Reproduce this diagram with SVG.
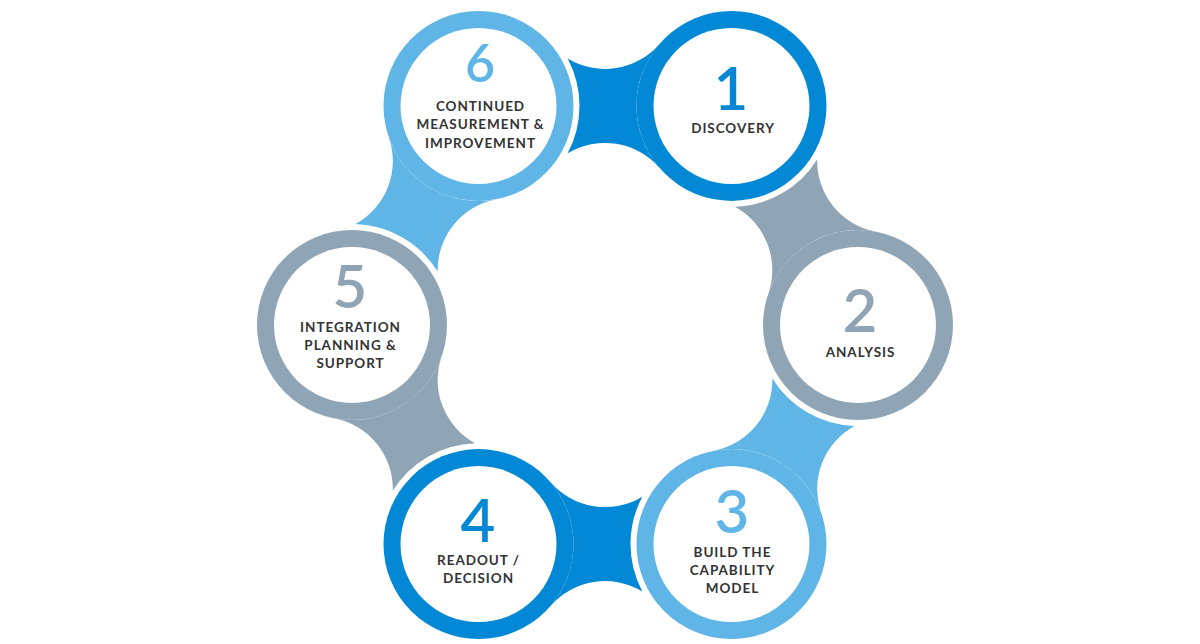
<svg xmlns="http://www.w3.org/2000/svg" xmlns:xlink="http://www.w3.org/1999/xlink" width="1200" height="644" viewBox="0 0 1200 644">
  <style>
    .dark { fill: #0288D5; }
    .light { fill: #5FB5E6; }
    .gray { fill: #8FA4B5; }
    .inner { fill: #FFFFFF; }
    .num { font-family: Lato, "Open Sans", sans-serif; font-weight: 600; font-size: 60px; text-anchor: middle; }
    .lbl { font-family: Lato, "Open Sans", sans-serif; font-weight: 700; font-size: 13.5px; letter-spacing: 0.95px; fill: #333333; text-anchor: middle; }
  </style>
  <defs>
    <path id="conn" d="M -37.34 -47.45 A 71.95 71.95 0 0 0 54.52 -62 A 95 95 0 0 0 54.52 62 A 71.95 71.95 0 0 0 -37.34 47.45 A 101 101 0 0 0 -37.34 -47.45 Z"/>
  </defs>
  <rect width="1200" height="644" fill="#FFFFFF"/>
  <g id="connectors">
    <use xlink:href="#conn" href="#conn" class="dark" transform="translate(605,105.9) rotate(0)"/>
    <use xlink:href="#conn" href="#conn" class="gray" transform="translate(794.75,215.45) rotate(60)"/>
    <use xlink:href="#conn" href="#conn" class="light" transform="translate(794.75,434.55) rotate(120)"/>
    <use xlink:href="#conn" href="#conn" class="dark" transform="translate(605,544.1) rotate(180)"/>
    <use xlink:href="#conn" href="#conn" class="gray" transform="translate(415.25,434.55) rotate(240)"/>
    <use xlink:href="#conn" href="#conn" class="light" transform="translate(415.25,215.45) rotate(300)"/>
  </g>
  <g id="node1">
    <circle cx="731.5" cy="105.9" r="95" class="dark"/>
    <circle cx="731.5" cy="105.9" r="78" class="inner"/>
    <text x="731" y="110" class="num dark">1</text>
    <text x="733" y="133.3" class="lbl">DISCOVERY</text>
  </g>
  <g id="node2">
    <circle cx="858" cy="325" r="95" class="gray"/>
    <circle cx="858" cy="325" r="78" class="inner"/>
    <text x="860" y="332" class="num gray">2</text>
    <text x="860.5" y="357.3" class="lbl">ANALYSIS</text>
  </g>
  <g id="node3">
    <circle cx="731.5" cy="544.1" r="95" class="light"/>
    <circle cx="731.5" cy="544.1" r="78" class="inner"/>
    <text x="732" y="533" class="num light">3</text>
    <text x="732.5" y="556.7" class="lbl">BUILD THE</text>
    <text x="732.5" y="575" class="lbl">CAPABILITY</text>
    <text x="732.5" y="593.3" class="lbl">MODEL</text>
  </g>
  <g id="node4">
    <circle cx="478.5" cy="544.1" r="95" class="dark"/>
    <circle cx="478.5" cy="544.1" r="78" class="inner"/>
    <text x="478" y="542" class="num dark">4</text>
    <text x="478.5" y="565" class="lbl">READOUT /</text>
    <text x="478.5" y="583.3" class="lbl">DECISION</text>
  </g>
  <g id="node5">
    <circle cx="352" cy="325" r="95" class="gray"/>
    <circle cx="352" cy="325" r="78" class="inner"/>
    <text x="350" y="308" class="num gray">5</text>
    <text x="350.5" y="331.7" class="lbl">INTEGRATION</text>
    <text x="350.5" y="350" class="lbl">PLANNING &amp;</text>
    <text x="350.5" y="368.3" class="lbl">SUPPORT</text>
  </g>
  <g id="node6">
    <circle cx="478.5" cy="105.9" r="95" class="light"/>
    <circle cx="478.5" cy="105.9" r="78" class="inner"/>
    <text x="480" y="82" class="num light" style="font-size:52px">6</text>
    <text x="480.5" y="111" class="lbl">CONTINUED</text>
    <text x="480.5" y="129.3" class="lbl">MEASUREMENT &amp;</text>
    <text x="480.5" y="147.7" class="lbl">IMPROVEMENT</text>
  </g>
</svg>
